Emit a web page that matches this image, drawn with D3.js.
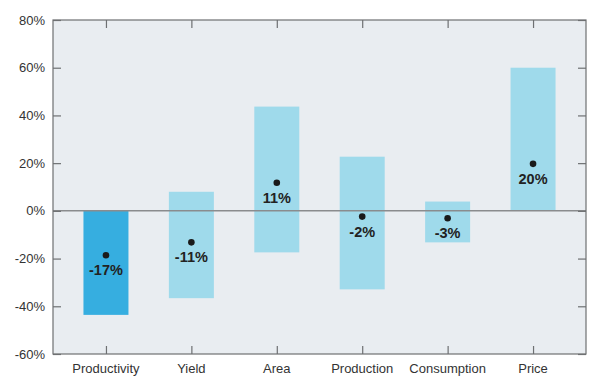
<!DOCTYPE html>
<html><head><meta charset="utf-8">
<script src="https://cdn.jsdelivr.net/npm/d3@7"></script>
<style>body{margin:0;background:#fff}svg{display:block}text{font-family:"Liberation Sans",Arial,sans-serif}</style>
</head><body>
<script>
const categories = ["Productivity","Yield","Area","Production","Consumption","Price"];
const rangeHigh = [0, 8, 43.7, 22.7, 3.9, 60];
const rangeLow = [-43.6, -36.6, -17.4, -32.9, -13.2, 0];
const pointValues = [-18.6, -13.2, 11.8, -2.4, -3.1, 19.7];
const pointLabels = ["-17%","-11%","11%","-2%","-3%","20%"];
const yTicks = [80, 60, 40, 20, 0, -20, -40, -60];
const barColors = ["#36AEE0","#9FDAEB","#9FDAEB","#9FDAEB","#9FDAEB","#9FDAEB"];

const W = 600, H = 391;
const m = {left: 53, right: 14, top: 20, bottom: 37};
const x0 = m.left, x1 = W - m.right, y0 = m.top, y1 = H - m.bottom;
const svg = d3.select("body").append("svg").attr("width", W).attr("height", H);

const x = d3.scalePoint().domain(categories).range([x0, x1]).padding(0.62);
const y = d3.scaleLinear().domain([-60, 80]).range([y1, y0]);
const bw = 45;

svg.append("rect").attr("x", x0).attr("y", y0).attr("width", x1 - x0).attr("height", y1 - y0).attr("fill", "#E9EDF1");

// bars
svg.selectAll("rect.bar").data(categories).enter().append("rect").attr("class","bar")
  .attr("x", d => x(d) - bw/2)
  .attr("y", (d,i) => y(rangeHigh[i]))
  .attr("width", bw)
  .attr("height", (d,i) => y(rangeLow[i]) - y(rangeHigh[i]))
  .attr("fill", (d,i) => barColors[i]);

// zero line
svg.append("line").attr("x1", x0).attr("x2", x1).attr("y1", y(0)).attr("y2", y(0))
  .attr("stroke", "#8A8C8E").attr("stroke-width", 1.5);

// frame
svg.append("rect").attr("x", x0).attr("y", y0).attr("width", x1 - x0).attr("height", y1 - y0)
  .attr("fill", "none").attr("stroke", "#6E7072").attr("stroke-width", 1.2);

// left axis
const yl = svg.append("g").attr("transform", `translate(${x0},0)`)
  .call(d3.axisRight(y).tickValues(yTicks).tickSize(8).tickFormat(""));
yl.select(".domain").remove();
yl.selectAll("line").attr("stroke", "#6E7072").attr("stroke-width", 1.2);
svg.append("g").selectAll("text").data(yTicks).enter().append("text")
  .attr("x", x0 - 8).attr("y", d => y(d)).attr("dy", "0.35em")
  .attr("text-anchor", "end").attr("font-size", 13).attr("fill", "#333")
  .text(d => d + "%");

// right axis
const yr = svg.append("g").attr("transform", `translate(${x1},0)`)
  .call(d3.axisLeft(y).tickValues(yTicks).tickSize(8).tickFormat(""));
yr.select(".domain").remove();
yr.selectAll("line").attr("stroke", "#6E7072").attr("stroke-width", 1.2);

// bottom axis
const xb = svg.append("g").attr("transform", `translate(0,${y1})`)
  .call(d3.axisTop(x).tickSize(8).tickFormat(""));
xb.select(".domain").remove();
xb.selectAll("line").attr("stroke", "#6E7072").attr("stroke-width", 1.2);
svg.append("g").selectAll("text").data(categories).enter().append("text")
  .attr("x", d => x(d)).attr("y", y1 + 14).attr("dy", "0.35em")
  .attr("text-anchor", "middle").attr("font-size", 13).attr("fill", "#333")
  .text(d => d);

// top axis
const xt = svg.append("g").attr("transform", `translate(0,${y0})`)
  .call(d3.axisBottom(x).tickSize(8).tickFormat(""));
xt.select(".domain").remove();
xt.selectAll("line").attr("stroke", "#6E7072").attr("stroke-width", 1.2);

// points
svg.selectAll("circle.pt").data(categories).enter().append("circle").attr("class","pt")
  .attr("cx", d => x(d)).attr("cy", (d,i) => y(pointValues[i])).attr("r", 3.3).attr("fill", "#1A1A1A");
svg.selectAll("text.lbl").data(categories).enter().append("text").attr("class","lbl")
  .attr("x", d => x(d)).attr("y", (d,i) => y(pointValues[i]) + 15).attr("dy", "0.35em")
  .attr("text-anchor", "middle").attr("font-size", 14.5).attr("font-weight", "bold").attr("fill", "#222")
  .text((d,i) => pointLabels[i]);
</script>
</body></html>
